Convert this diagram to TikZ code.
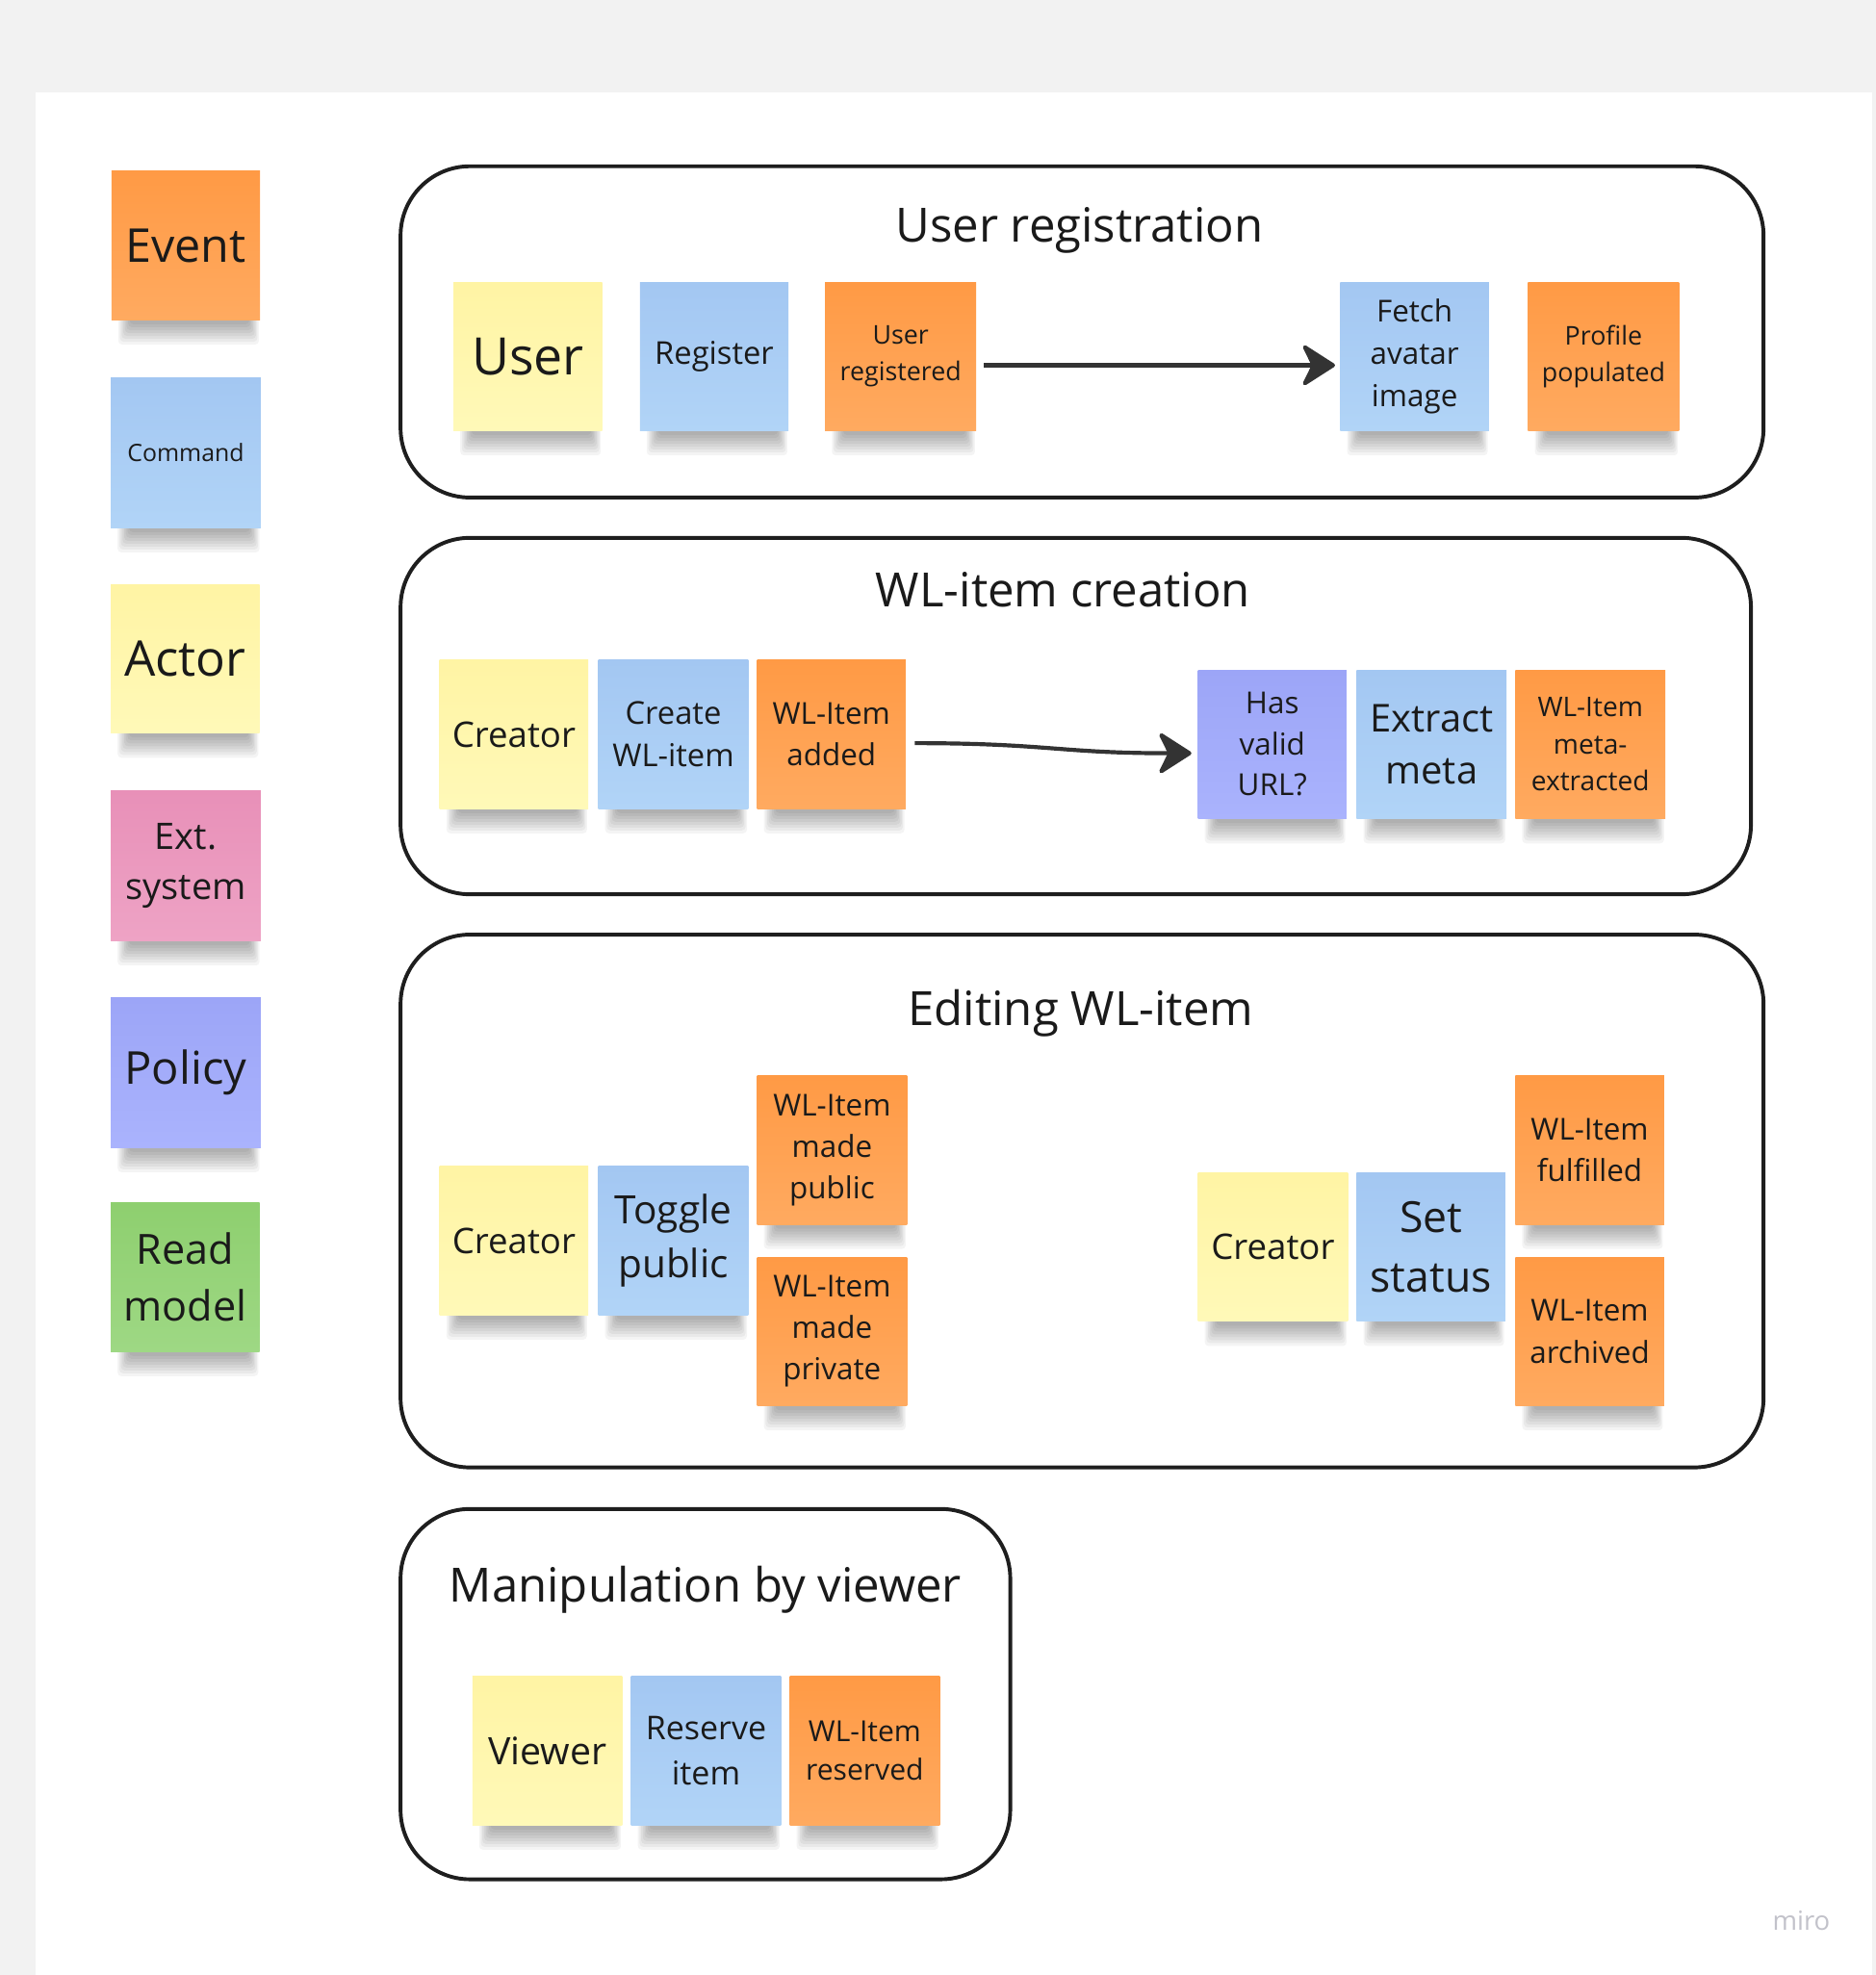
\documentclass[tikz,border=0pt]{standalone}
\usepackage{fontspec}
\setmainfont{Open Sans}
\usetikzlibrary{arrows.meta}
\definecolor{bgGrey}{HTML}{F2F2F2}
\definecolor{ink}{HTML}{1A1A1A}
\definecolor{frameC}{HTML}{1E1E1E}
\definecolor{arrowC}{HTML}{333333}
\definecolor{miroC}{HTML}{C2C2CA}
\definecolor{evT}{HTML}{FF9A45}\definecolor{evB}{HTML}{FFAA60}
\definecolor{cmT}{HTML}{A3C7F2}\definecolor{cmB}{HTML}{B1D4F7}
\definecolor{acT}{HTML}{FFF4A4}\definecolor{acB}{HTML}{FFF9B8}
\definecolor{exT}{HTML}{E890B8}\definecolor{exB}{HTML}{EEA3C5}
\definecolor{poT}{HTML}{9CA5F7}\definecolor{poB}{HTML}{AAB3FD}
\definecolor{rmT}{HTML}{8ECF6F}\definecolor{rmB}{HTML}{9ED884}
\newcommand\myfs[2]{\fontsize{#1}{#2}\selectfont}
\pgfdeclarelayer{canvas}
\pgfdeclarelayer{shade}
\pgfsetlayers{canvas,shade,main}
\newcommand\shad[1]{%
  \begin{pgfonlayer}{shade}
  \foreach \k in {1,...,8}{%
    \fill[black,opacity=0.045,rounded corners=3pt]
      ([xshift={(16-1.3*\k)*1pt},yshift=3pt]#1.south west) rectangle
      ([xshift={(-10+1.1*\k)*1pt},yshift={-(1+2.3*\k)*1pt}]#1.south east);}
  \end{pgfonlayer}}
\tikzset{
  sticky/.style={minimum width=118pt, minimum height=118pt, inner sep=1pt,
    align=center, text=ink},
  stEv/.style={sticky, top color=evT, bottom color=evB},
  stCm/.style={sticky, top color=cmT, bottom color=cmB},
  stAc/.style={sticky, top color=acT, bottom color=acB},
  stEx/.style={sticky, top color=exT, bottom color=exB},
  stPo/.style={sticky, top color=poT, bottom color=poB},
  stRm/.style={sticky, top color=rmT, bottom color=rmB},
  frame/.style={draw=frameC, line width=3pt, rounded corners=55pt, inner sep=0pt},
  title/.style={text=ink, anchor=base, font=\myfs{37.5}{44}, inner sep=0pt},
  flow/.style={draw=arrowC, line width=3.2pt,
    -{Stealth[length=29pt, width=37pt, inset=9pt, round]}}
}
\begin{document}
\begin{tikzpicture}[x=1pt, y=-1pt]
\begin{pgfonlayer}{canvas}
  \fill[bgGrey] (0,0) rectangle (1489,1568);
  \fill[white] (28,73) rectangle (1486,1568);
\end{pgfonlayer}
\useasboundingbox (0,0) rectangle (1489,1568);

% legend
\node[stEv, font=\myfs{37}{48}] (lev) at (147.5,195) {Event};
\node[stCm, font=\myfs{19}{26}, minimum width=119pt, minimum height=119pt] (lcm) at (147.5,359.5) {Command};
\node[stAc, font=\myfs{39}{50}] (lac) at (147,523) {Actor};
\node[stEx, font=\myfs{29}{40}, minimum width=119pt, minimum height=119pt] (lex) at (147.5,687.5) {\rule{0pt}{3pt}Ext.\\system};
\node[stPo, font=\myfs{36}{48}, minimum width=119pt, minimum height=119pt] (lpo) at (147.5,851.5) {Policy};
\node[stRm, font=\myfs{33}{45}] (lrm) at (147,1014) {Read\\model};

% frames
\node[frame, minimum width=1082pt, minimum height=263pt] (f1) at (859,263.5) {};
\node[frame, minimum width=1072pt, minimum height=283pt] (f2) at (854,568.5) {};
\node[frame, minimum width=1082pt, minimum height=423pt] (f3) at (859,953.5) {};
\node[frame, minimum width=484pt, minimum height=294pt] (f4) at (560,1345) {};

\node[title] (t1) at (857,192) {User registration};
\node[title] (t2) at (844,482) {WL-item creation};
\node[title] (t3) at (858,814) {Editing WL-item};
\node[title] (t4) at (560,1272) {Manipulation by viewer};

% frame 1
\node[stAc, font=\myfs{41}{52}] (user) at (419,283) {User};
\node[stCm, font=\myfs{25}{34}] (reg) at (567,283) {Register};
\node[stEv, font=\myfs{20.5}{29}, minimum width=120pt] (ureg) at (715,283) {User\\registered};
\node[stCm, font=\myfs{24}{33.5}] (fetch) at (1123,283) {Fetch\\avatar\\image};
\node[stEv, font=\myfs{20.5}{29}, minimum width=120pt] (prof) at (1273,283) {Profile\\populated};
\draw[flow] ([xshift=6pt,yshift=-7pt]ureg.east) -- ([xshift=-4pt,yshift=-7pt]fetch.west);

% frame 2
\node[stAc, font=\myfs{28}{38}] (cre1) at (408,583) {Creator};
\node[stCm, font=\myfs{25}{34}, minimum width=119pt] (crw) at (534.5,583) {Create\\WL-item};
\node[stEv, font=\myfs{24}{33}] (added) at (660,583) {WL-Item\\added};
\node[stPo, font=\myfs{24}{32.5}] (valid) at (1010,591) {Has\\valid\\URL?};
\node[stCm, font=\myfs{30.5}{42}, minimum width=119pt] (extr) at (1136.5,591) {Extract\\meta};
\node[stEv, font=\myfs{21.5}{29.5}, minimum width=119pt] (metx) at (1262.5,591) {WL-Item\\meta-\\extracted};
\draw[flow] ([xshift=7pt,yshift=-7pt]added.east) .. controls +(105,0) and +(-105,0) .. ([xshift=-5pt,yshift=-7pt]valid.west);

% frame 3
\node[stAc, font=\myfs{28}{38}] (cre2) at (408,985) {Creator};
\node[stCm, font=\myfs{31}{43}, minimum width=119pt] (tog) at (534.5,985) {Toggle\\public};
\node[stEv, font=\myfs{24}{33}, minimum width=119pt] (mpub) at (660.5,913) {WL-Item\\made\\public};
\node[stEv, font=\myfs{24}{33}, minimum width=119pt] (mpriv) at (660.5,1057) {WL-Item\\made\\private};
\node[stAc, font=\myfs{28}{38}, minimum width=119pt] (cre3) at (1010.5,990) {Creator};
\node[stCm, font=\myfs{34}{47}] (sets) at (1136,990) {Set\\status};
\node[stEv, font=\myfs{24}{33}] (ful) at (1262,913) {WL-Item\\fulfilled};
\node[stEv, font=\myfs{24}{34}] (arc) at (1262,1057) {WL-Item\\archived};

% frame 4
\node[stAc, font=\myfs{30}{40}, minimum width=119pt] (view) at (434.5,1390) {Viewer};
\node[stCm, font=\myfs{26}{36}, minimum width=119pt] (resv) at (560.5,1390) {Reserve\\item};
\node[stEv, font=\myfs{23}{31}, minimum width=119pt] (resd) at (686.5,1390) {WL-Item\\reserved};

\foreach \n in {lev,lcm,lac,lex,lpo,lrm,user,reg,ureg,fetch,prof,cre1,crw,added,valid,extr,metx,cre2,tog,mpub,mpriv,cre3,sets,ful,arc,view,resv,resd}{\shad{\n}}

\node[text=miroC, font=\myfs{21}{24}] (miro) at (1430,1525) {miro};
\end{tikzpicture}
\end{document}
